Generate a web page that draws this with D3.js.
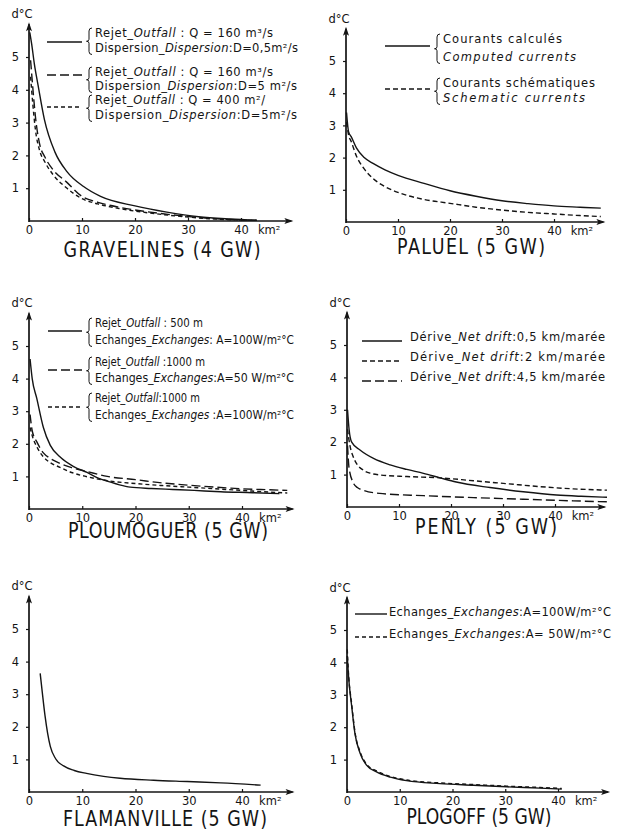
<!DOCTYPE html>
<html><head><meta charset="utf-8">
<script src="https://cdn.jsdelivr.net/npm/d3@7"></script>
<style>body{margin:0;background:#fff} svg{display:block}</style>
</head><body><svg id="c" width="617" height="832"></svg>
<script>
// ---------- data ----------
const xTicks = [0, 10, 20, 30, 40];
const yTicks = [1, 2, 3, 4, 5];
const titles = ["GRAVELINES (4 GW)", "PALUEL (5 GW)", "PLOUMOGUER (5 GW)", "PENLY (5 GW)", "FLAMANVILLE (5 GW)", "PLOGOFF (5 GW)"];
const yLabel = "d°C";
const xLabel = "km²";

// Gravelines
const gravelinesSolid = [[0.15,5.75],[0.5,5.4],[1.0,4.8],[1.7,4.15],[2.9,3.1],[4.9,2.1],[7.2,1.5],[10.3,1.05],[13.5,0.75],[20,0.46],[26,0.27],[32,0.13],[38,0.06],[43,0.02]];
const gravelinesLong  = [[0.3,4.9],[0.7,4.1],[1.2,3.2],[2.0,2.35],[3.0,1.95],[4.6,1.55],[7.0,1.2],[10,0.75],[13,0.57],[17,0.42],[22,0.29],[28,0.17],[34,0.08],[40,0.03],[43,0.02]];
const gravelinesShort = [[0.3,4.4],[0.7,3.6],[1.2,2.8],[2.0,2.15],[3.0,1.8],[4.6,1.4],[7.0,1.02],[10,0.68],[13,0.52],[17,0.38],[22,0.26],[28,0.15],[34,0.07],[40,0.03],[43,0.02]];
const gravelinesLegend = [
  ["Rejet_*Outfall* : Q = 160 m³/s", "Dispersion_*Dispersion*:D=0,5m²/s"],
  ["Rejet_*Outfall* : Q = 160 m³/s", "Dispersion_*Dispersion*:D=5 m²/s"],
  ["Rejet_*Outfall* : Q = 400 m²/", "Dispersion_*Dispersion*:D=5m²/s"]
];

// Paluel
const paluelComputed  = [[0.1,3.4],[0.5,2.8],[1,2.65],[2,2.3],[3.5,2.0],[5.2,1.82],[7.5,1.62],[10,1.45],[15,1.2],[20,0.97],[25,0.8],[30,0.66],[35,0.57],[40,0.5],[45,0.46],[49,0.43]];
const paluelSchematic = [[0.1,3.1],[0.5,2.7],[1,2.5],[2,2.05],[3.5,1.65],[5.2,1.35],[7.5,1.1],[10,0.92],[15,0.7],[20,0.58],[25,0.46],[30,0.37],[35,0.3],[40,0.25],[45,0.2],[49,0.17]];
const paluelLegend = [
  ["Courants calculés", "*Computed currents*"],
  ["Courants schématiques", "*Schematic currents*"]
];

// Ploumoguer
const ploumoguerSolid = [[0.2,4.6],[0.6,4.0],[1.45,3.4],[2.7,2.5],[4,1.95],[5.8,1.6],[8.4,1.3],[10.9,1.12],[13,0.95],[15,0.84],[17,0.74],[19,0.67],[23,0.63],[27,0.6],[31,0.57],[36,0.53],[42,0.5],[47,0.47]];
const ploumoguerLong  = [[0.2,2.9],[0.6,2.4],[1.5,2.05],[2.7,1.72],[4,1.55],[5.8,1.4],[8,1.27],[10.9,1.15],[14.7,1.0],[20,0.9],[25,0.8],[30,0.73],[35,0.67],[40,0.62],[45,0.59],[48.5,0.57]];
const ploumoguerShort = [[0.2,2.5],[0.6,2.25],[1.5,1.9],[2.7,1.6],[4,1.42],[5.8,1.28],[8,1.12],[10.9,0.99],[14.7,0.87],[20,0.78],[25,0.72],[30,0.67],[35,0.62],[40,0.57],[45,0.52],[48.5,0.49]];
const ploumoguerLegend = [
  ["Rejet_*Outfall* : 500 m", "Echanges_*Exchanges*: A=100W/m²°C"],
  ["Rejet_*Outfall* :1000 m", "Echanges_*Exchanges*:A=50 W/m²°C"],
  ["Rejet_*Outfall*:1000 m", "Echanges_*Exchanges* :A=100W/m²°C"]
];

// Penly
const penlyDrift05 = [[0.1,3.0],[0.4,2.4],[0.9,2.0],[2.5,1.76],[5.1,1.5],[8.3,1.3],[11.5,1.16],[14.7,1.04],[17.9,0.9],[21,0.77],[27.5,0.6],[33.9,0.47],[40.3,0.37],[45,0.33],[50,0.3]];
const penlyDrift2  = [[0.1,2.4],[0.5,1.95],[1.2,1.55],[2,1.3],[3.1,1.14],[4.5,1.04],[6.3,0.99],[11.5,0.94],[17.9,0.9],[24.3,0.81],[30.7,0.72],[37,0.63],[43.5,0.56],[50,0.52]];
const penlyDrift45 = [[0.1,1.9],[0.4,1.2],[1.2,0.75],[2,0.6],[3.1,0.52],[6.3,0.42],[14.7,0.35],[24.3,0.29],[33.9,0.24],[43.5,0.19],[50,0.16]];
const penlyLegend = [
  ["Dérive_*Net drift*:0,5 km/marée"],
  ["Dérive_*Net drift*:2  km/marée"],
  ["Dérive_*Net drift*:4,5 km/marée"]
];

// Flamanville
const flamanvilleSolid = [[2.1,3.64],[2.5,3.05],[3.0,2.35],[3.5,1.8],[4.0,1.4],[5.0,1.02],[6.5,0.8],[8.5,0.66],[10.8,0.57],[14,0.48],[17.1,0.42],[23.4,0.36],[29.7,0.32],[36,0.28],[43.5,0.21]];

// Plogoff
const plogoffA100 = [[0.05,4.2],[0.25,3.66],[0.9,2.63],[1.5,1.81],[2.5,1.19],[3.7,0.83],[5.6,0.62],[8.2,0.46],[11.3,0.35],[17.6,0.26],[24,0.21],[30.3,0.16],[36.6,0.12],[40.7,0.09]];
const plogoffA50  = [[0.05,4.4],[0.25,3.75],[0.9,2.7],[1.5,1.86],[2.5,1.23],[3.7,0.86],[5.6,0.65],[8.2,0.48],[11.3,0.37],[17.6,0.28],[24,0.23],[30.3,0.18],[36.6,0.14],[40.7,0.11]];
const plogoffLegend = [
  ["Echanges_*Exchanges*:A=100W/m²°C"],
  ["Echanges_*Exchanges*:A= 50W/m²°C"]
];

// ---------- drawing ----------
const FONT = "'DejaVu Sans', sans-serif";
const INK = "#141414";
const SOLID = null, LONG = "9,4", SHORT = "4,3", MED = "5,3";
const svg = d3.select("#c");
svg.append("rect").attr("width", 617).attr("height", 832).attr("fill", "#fff");

const panels = [
  {ox:29, oy:221, w40:212, h5:164, title:titles[0], tcx:162, tby:257, tw:197,
   series:[[gravelinesSolid,SOLID],[gravelinesLong,LONG],[gravelinesShort,SHORT]],
   legend:{texts:gravelinesLegend, sx1:47, sx2:82, bx:89, tx:95,
     entries:[{ly:42, ys:[37,52], ends:[273,298], dash:SOLID},{ly:75, ys:[76,90], ends:[273,297], dash:LONG},{ly:107, ys:[104,119], ends:[265,297], dash:SHORT}]}},
  {ox:346, oy:222, w40:208, h5:161, title:titles[1], tcx:471, tby:254, tw:148,
   series:[[paluelComputed,SOLID],[paluelSchematic,MED]],
   legend:{texts:paluelLegend, sx1:385, sx2:430, bx:437, tx:443,
     entries:[{ly:46, ys:[43,61], ends:[562,576], dash:SOLID},{ly:89, ys:[87,102], ends:[595,585], dash:MED}]}},
  {ox:29, oy:509, w40:213, h5:163, title:titles[2], tcx:168, tby:538, tw:200,
   series:[[ploumoguerSolid,SOLID],[ploumoguerLong,LONG],[ploumoguerShort,SHORT]],
   legend:{texts:ploumoguerLegend, sx1:48, sx2:82, bx:89, tx:95,
     entries:[{ly:331, ys:[327,344], ends:[203,294], dash:SOLID},{ly:370, ys:[366,382], ends:[205,294], dash:LONG},{ly:407, ys:[402,419], ends:[200,294], dash:SHORT}]}},
  {ox:347, oy:507, w40:208, h5:162, title:titles[3], tcx:486, tby:534, tw:142,
   series:[[penlyDrift05,SOLID],[penlyDrift2,MED],[penlyDrift45,LONG]],
   legend:{texts:penlyLegend, sx1:362, sx2:402, tx:410,
     entries:[{ly:341, ys:[341], ends:[605], dash:SOLID},{ly:361, ys:[361], ends:[605], dash:MED},{ly:381, ys:[381], ends:[605], dash:LONG}]}},
  {ox:29, oy:792, w40:213, h5:163, title:titles[4], tcx:165, tby:826, tw:204,
   series:[[flamanvilleSolid,SOLID]], legend:null},
  {ox:347, oy:792, w40:211, h5:162, title:titles[5], tcx:479, tby:824, tw:145,
   series:[[plogoffA100,SOLID],[plogoffA50,SHORT]],
   legend:{texts:plogoffLegend, sx1:355, sx2:387, tx:389,
     entries:[{ly:614, ys:[616], ends:[611], dash:SOLID},{ly:637, ys:[638], ends:[611], dash:SHORT}]}}
];

function richText(g, str, x, y, size, endX) {
  const t = g.append("text").attr("x", x).attr("y", y)
    .attr("font-family", FONT).attr("font-size", size).attr("fill", INK);
  str.split("*").forEach((part, i) => {
    if (!part) return;
    t.append("tspan").text(part).attr("font-style", i % 2 ? "italic" : "normal");
  });
  const w = t.node().getComputedTextLength();
  const target = endX - x;
  t.attr("textLength", target).attr("lengthAdjust", w > target ? "spacingAndGlyphs" : "spacing");
  return t;
}

panels.forEach(p => {
  const g = svg.append("g");
  const x = d3.scaleLinear().domain([0, 40]).range([p.ox, p.ox + p.w40]);
  const y = d3.scaleLinear().domain([0, 5]).range([p.oy, p.oy - p.h5]);

  // axes with ticks
  const xa = g.append("g").attr("transform", `translate(0,${p.oy})`)
    .call(d3.axisBottom(x).tickValues(xTicks).tickSize(-3).tickPadding(5).tickFormat(d3.format("d")));
  const ya = g.append("g").attr("transform", `translate(${p.ox},0)`)
    .call(d3.axisLeft(y).tickValues(yTicks).tickSize(3).tickPadding(7).tickFormat(d3.format("d")));
  [xa, ya].forEach(a => {
    a.select(".domain").remove();
    a.selectAll("line").attr("stroke", INK).attr("stroke-width", 1.2);
    a.selectAll("text").attr("font-family", FONT).attr("font-size", 11.5).attr("fill", INK);
  });

  // axis lines + arrows
  const xEnd = x(49.5), yTop = y(6);
  g.append("line").attr("x1", p.ox).attr("x2", xEnd).attr("y1", p.oy).attr("y2", p.oy)
    .attr("stroke", INK).attr("stroke-width", 1.7);
  g.append("line").attr("x1", p.ox).attr("x2", p.ox).attr("y1", p.oy + 1).attr("y2", yTop)
    .attr("stroke", INK).attr("stroke-width", 1.7);
  g.append("path").attr("d", `M${xEnd + 2},${p.oy} L${xEnd - 7},${p.oy - 3} L${xEnd - 5},${p.oy} L${xEnd - 7},${p.oy + 3} Z`).attr("fill", INK);
  g.append("path").attr("d", `M${p.ox},${yTop - 2} L${p.ox - 3},${yTop + 7} L${p.ox},${yTop + 5} L${p.ox + 3},${yTop + 7} Z`).attr("fill", INK);

  g.append("text").attr("x", p.ox - 7).attr("y", yTop - 6).attr("text-anchor", "middle")
    .attr("font-family", FONT).attr("font-size", 11.5).attr("fill", INK).text(yLabel);
  g.append("text").attr("x", x(43.2)).attr("y", p.oy + 13)
    .attr("font-family", FONT).attr("font-size", 11.5).attr("fill", INK).text(xLabel);

  // curves
  const line = d3.line().x(d => x(d[0])).y(d => y(d[1])).curve(d3.curveMonotoneX);
  p.series.forEach(([data, dash]) => {
    g.append("path").attr("d", line(data)).attr("fill", "none")
      .attr("stroke", INK).attr("stroke-width", 1.4)
      .attr("stroke-dasharray", dash);
  });

  // title
  const tg = g.append("g").attr("transform", `translate(${p.tcx},${p.tby}) scale(1,1.2)`);
  const tt = tg.append("text").attr("text-anchor", "middle").attr("font-family", FONT)
    .attr("font-size", 17.5).attr("fill", INK).text(p.title);
  const tw0 = tt.node().getComputedTextLength();
  tt.attr("textLength", p.tw).attr("lengthAdjust", tw0 > p.tw ? "spacingAndGlyphs" : "spacing");

  // legend
  if (p.legend) {
    const L = p.legend;
    L.entries.forEach((e, i) => {
      g.append("line").attr("x1", L.sx1).attr("x2", L.sx2).attr("y1", e.ly).attr("y2", e.ly)
        .attr("stroke", INK).attr("stroke-width", 1.4).attr("stroke-dasharray", e.dash);
      const lines = L.texts[i];
      if (lines.length > 1) {
        const top = e.ys[0] - 9, bot = e.ys[e.ys.length - 1] + 2.5, mid = (top + bot) / 2, b = L.bx;
        g.append("path").attr("d",
          `M${b + 3},${top} Q${b},${top} ${b},${top + 3} L${b},${mid - 2} Q${b},${mid} ${b - 2.5},${mid} Q${b},${mid} ${b},${mid + 2} L${b},${bot - 3} Q${b},${bot} ${b + 3},${bot}`)
          .attr("fill", "none").attr("stroke", INK).attr("stroke-width", 1);
      }
      lines.forEach((s, j) => richText(g, s, L.tx, e.ys[j], 11.5, e.ends[j]));
    });
  }
});
</script>
</body></html>
